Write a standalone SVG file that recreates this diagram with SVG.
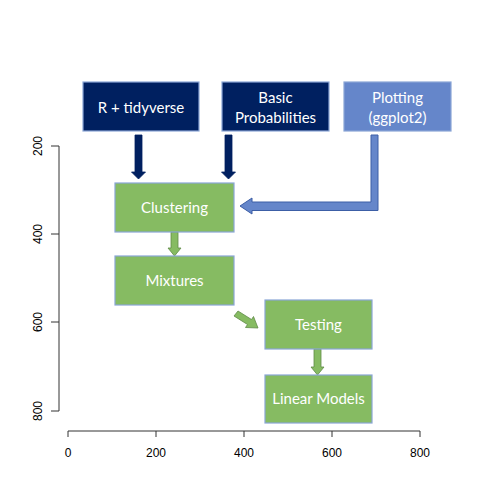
<svg xmlns="http://www.w3.org/2000/svg" width="504" height="504" viewBox="0 0 504 504">
<style>
.box{stroke:#8aa6d6;stroke-width:1.2}
.navy{fill:#002060}
.lb{fill:#6586ca}
.gr{fill:#86bb62}
.t{font-family:Lato,"Liberation Sans",sans-serif;font-size:15px;fill:#ffffff;text-anchor:middle;dominant-baseline:central}
.ax{stroke:#333;stroke-width:1;fill:none}
.al{font-family:"Liberation Sans",Arial,sans-serif;font-size:12px;fill:#000;text-anchor:middle;dominant-baseline:central}
.an{fill:#002060;stroke:#002060;stroke-width:0.8}
.ab{fill:#6586ca;stroke:#3c5ea6;stroke-width:1}
.ag{fill:#86bb62;stroke:#5f8a47;stroke-width:0.8}
</style>
<rect width="504" height="504" fill="#ffffff"/>
<g id="axes">
<path class="ax" d="M68 431H420M68 431v6M156 431v6M244 431v6M332 431v6M420 431v6"/>
<text class="al" x="68" y="453">0</text>
<text class="al" x="156" y="453">200</text>
<text class="al" x="244" y="453">400</text>
<text class="al" x="332" y="453">600</text>
<text class="al" x="420" y="453">800</text>
<path class="ax" d="M59 146V411M59 146h-8M59 234h-8M59 322h-8M59 411h-8"/>
<text class="al" transform="translate(38 146) rotate(-90)">200</text>
<text class="al" transform="translate(38 234) rotate(-90)">400</text>
<text class="al" transform="translate(38 322) rotate(-90)">600</text>
<text class="al" transform="translate(38 411) rotate(-90)">800</text>
</g>
<g id="connectors">
<path class="an" d="M135 135H142V172H145.5L138.5 179L131.5 172H135Z"/>
<path class="an" d="M225 135H232V172H235.5L228.5 179L221.5 172H225Z"/>
<path class="ab" d="M371 135H378V210.5H252V214L240 206L252 198V202H371Z"/>
<path class="ag" d="M171 232H178V248H181L174.5 256L168 248H171Z"/>
<path class="ag" d="M238 311L251.5 319.5L253.5 316.5L258 328L245.5 327.5L247.5 324.5L234 316Z"/>
<path class="ag" d="M314 349H321V367H324L317.5 375L311 367H314Z"/>
</g>
<g id="r-tidyverse">
<rect class="box navy" x="83" y="82" width="116" height="49"/>
<text class="t" x="141" y="107">R + tidyverse</text>
</g>
<g id="basic-probabilities">
<rect class="box navy" x="222" y="82" width="107" height="49"/>
<text class="t" x="275.5" y="97">Basic</text>
<text class="t" x="275.5" y="117">Probabilities</text>
</g>
<g id="plotting">
<rect class="box lb" x="344" y="82" width="107" height="49"/>
<text class="t" x="397.5" y="97">Plotting</text>
<text class="t" x="397.5" y="117">(ggplot2)</text>
</g>
<g id="clustering">
<rect class="box gr" x="115" y="183" width="119" height="49"/>
<text class="t" x="174.5" y="207">Clustering</text>
</g>
<g id="mixtures">
<rect class="box gr" x="115" y="256" width="119" height="49"/>
<text class="t" x="174.5" y="280">Mixtures</text>
</g>
<g id="testing">
<rect class="box gr" x="265" y="300" width="107" height="49"/>
<text class="t" x="318.5" y="324">Testing</text>
</g>
<g id="linear-models">
<rect class="box gr" x="265" y="375" width="107" height="48"/>
<text class="t" x="318.5" y="398">Linear Models</text>
</g>
</svg>
